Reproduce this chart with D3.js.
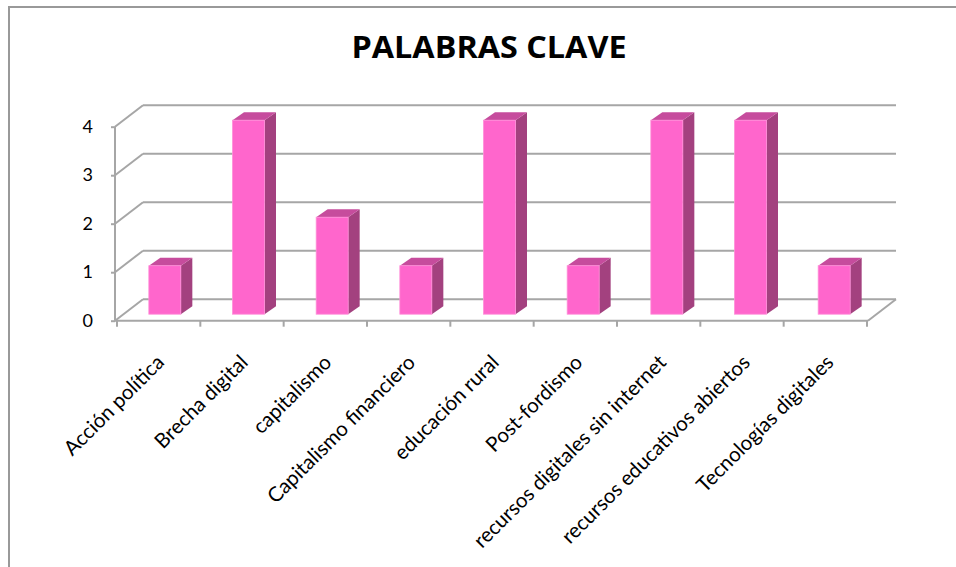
<!DOCTYPE html>
<html>
<head>
<meta charset="utf-8">
<script src="https://cdn.jsdelivr.net/npm/d3@7"></script>
<style>
  body { margin: 0; background: #fff; }
  svg { display: block; }
</style>
</head>
<body>
<div id="chart"></div>
<script>
// Data
const categories = [
    "Acción política",
    "Brecha digital",
    "capitalismo",
    "Capitalismo financiero",
    "educación rural",
    "Post-fordismo",
    "recursos digitales sin internet",
    "recursos educativos abiertos",
    "Tecnologías digitales"
]
const values = [1, 4, 2, 1, 4, 1, 4, 4, 1]
const yTicks = [0, 1, 2, 3, 4]
const title = "PALABRAS CLAVE"

const width = 956
const height = 567

// Front plane of the 3D box and the depth offset to the back wall
const front = { left: 115, right: 868, bottom: 320.7, top: 126.7 }
const depth = { dx: 28, dy: -21.5 }
// Bars sit a little inside the depth
const barShift = { dx: 8, dy: -6.5 }
const barSide = { dx: 11.5, dy: -8 }
const barWidth = 32

const colors = {
    front: "#ff66cc",
    side: "#a3417f",
    top: "#c64c9d",
    grid: "#a6a6a6",
    frame: "#999999"
}
const labelFont = "Lato, 'Open Sans', sans-serif"

const svg = d3.select("#chart")
    .append("svg")
    .attr("width", width)
    .attr("height", height)

// chart border (cut off on the right and bottom)
svg.append("rect")
    .attr("x", 9)
    .attr("y", 7)
    .attr("width", 1000)
    .attr("height", 1000)
    .attr("fill", "none")
    .attr("stroke", colors.frame)
    .attr("stroke-width", 2)

svg.append("text")
    .attr("x", 489)
    .attr("y", 58)
    .attr("text-anchor", "middle")
    .attr("font-family", "'Open Sans', sans-serif")
    .attr("font-weight", "bold")
    .attr("font-size", 31)
    .attr("textLength", 275)
    .attr("lengthAdjust", "spacingAndGlyphs")
    .attr("fill", "#000")
    .text(title)

// Scales
const x = d3.scaleBand()
    .domain(categories)
    .range([front.left, front.right])
const xEdge = d3.scaleLinear()
    .domain([0, categories.length])
    .range([front.left + 1.5, front.right - 1.5])
const y = d3.scaleLinear()
    .domain([0, 4])
    .range([front.bottom, front.top])

// Walls: gridlines on back wall + left side wall
const grid = svg.append("g")
    .attr("stroke", colors.grid)
    .attr("stroke-width", 2)
    .attr("fill", "none")

grid.selectAll(".back")
    .data(yTicks)
    .join("line")
    .attr("x1", front.left + depth.dx)
    .attr("x2", front.right + depth.dx)
    .attr("y1", d => y(d) + depth.dy)
    .attr("y2", d => y(d) + depth.dy)

grid.selectAll(".side")
    .data(yTicks)
    .join("line")
    .attr("x1", front.left)
    .attr("x2", front.left + depth.dx)
    .attr("y1", d => y(d))
    .attr("y2", d => y(d) + depth.dy)

// floor right edge
grid.append("line")
    .attr("x1", front.right)
    .attr("y1", y(0))
    .attr("x2", front.right + depth.dx)
    .attr("y2", y(0) + depth.dy)

// Bars
const bars = svg.append("g")
    .selectAll("g")
    .data(categories.map((c, i) => ({ cat: c, value: values[i] })))
    .join("g")

const bx = d => x(d.cat) + x.bandwidth() / 2 + barShift.dx - barWidth / 2
const by = d => y(d.value) + barShift.dy
const base = y(0) + barShift.dy

bars.append("path")
    .attr("fill", colors.side)
    .attr("d", d => {
        const x1 = bx(d) + barWidth
        return `M${x1},${by(d)}L${x1 + barSide.dx},${by(d) + barSide.dy}` +
            `L${x1 + barSide.dx},${base + barSide.dy}L${x1},${base}Z`
    })

bars.append("path")
    .attr("fill", colors.top)
    .attr("d", d => {
        const x0 = bx(d)
        const x1 = x0 + barWidth
        return `M${x0},${by(d)}L${x0 + barSide.dx},${by(d) + barSide.dy}` +
            `L${x1 + barSide.dx},${by(d) + barSide.dy}L${x1},${by(d)}Z`
    })

bars.append("rect")
    .attr("fill", colors.front)
    .attr("stroke", "#ff8fd9")
    .attr("stroke-width", 0.8)
    .attr("x", bx)
    .attr("y", by)
    .attr("width", barWidth)
    .attr("height", d => base - by(d))

// Axes
const yAxis = svg.append("g")
    .attr("transform", translate(front.left, 0))
    .call(d3.axisLeft(y).tickValues(yTicks).tickSize(4).tickPadding(18).tickFormat(d3.format("d")))
yAxis.select(".domain").remove()
yAxis.append("line")
    .attr("x1", 0).attr("x2", 0)
    .attr("y1", y(4)).attr("y2", y(0))
    .attr("stroke", colors.grid)
    .attr("stroke-width", 2)
yAxis.selectAll(".tick line").attr("stroke", colors.grid).attr("stroke-width", 2)
yAxis.selectAll(".tick text")
    .attr("font-family", labelFont)
    .attr("font-size", 18)
    .attr("fill", "#000")

const xAxis = svg.append("g")
    .attr("transform", translate(0, y(0)))
    .call(d3.axisBottom(xEdge).ticks(categories.length).tickSize(6).tickFormat(""))
xAxis.select(".domain").remove()
xAxis.append("line")
    .attr("x1", front.left).attr("x2", front.right)
    .attr("stroke", colors.grid)
    .attr("stroke-width", 2)
xAxis.selectAll(".tick line").attr("stroke", colors.grid).attr("stroke-width", 2)

// Rotated category labels, ending under each category centre
svg.append("g")
    .selectAll("text")
    .data(categories)
    .join("text")
    .attr("transform", d => translate(x(d) + x.bandwidth() / 2 + 3, 358) + " rotate(-45)")
    .attr("text-anchor", "end")
    .attr("dominant-baseline", "central")
    .attr("font-family", labelFont)
    .attr("font-size", 20.5)
    .attr("fill", "#000")
    .text(d => d)

function translate(x, y) {
    return `translate(${x},${y})`
}
</script>
</body>
</html>
